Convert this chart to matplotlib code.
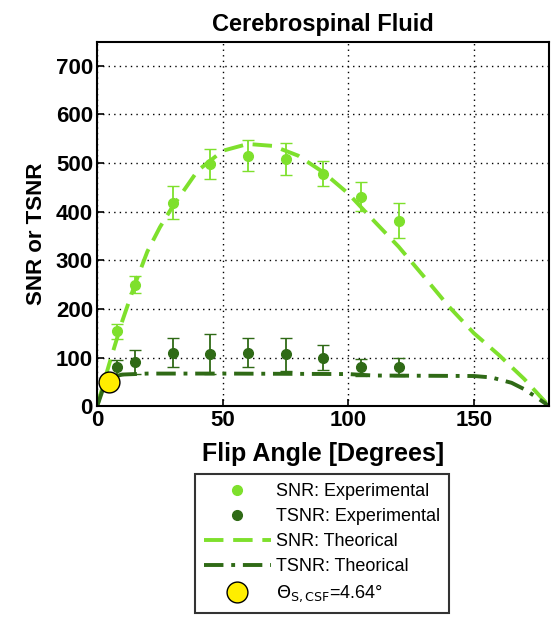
import matplotlib.pyplot as plt
from matplotlib.lines import Line2D

plt.rcParams['font.family'] = ['Liberation Sans', 'DejaVu Sans']

# experimental data
angulos = [8, 15, 30, 45, 60, 75, 90, 105, 120]
snr_exp = [154, 250, 418, 498, 515, 508, 478, 431, 381]
snr_err = [15, 17, 34, 30, 32, 32, 26, 30, 36]
tsnr_exp = [80, 91, 110, 107, 110, 107, 100, 80, 80]
tsnr_err = [15, 25, 30, 41, 30, 34, 25, 17, 18]

# theoretical curves
ang_teo = [0, 3, 5, 10, 15, 20, 25, 30, 40, 50, 60, 70, 80, 90, 100, 110, 120, 130, 140, 150, 160, 170, 180]
snr_teo = [0, 55, 90, 175, 250, 318, 368, 410, 484, 525, 539, 535, 515, 481, 437, 382, 328, 267, 205, 150, 105, 56, 0]
ang_tsnr = [0, 2, 4, 6, 10, 20, 50, 100, 110, 150, 157, 165, 170, 175, 180]
tsnr_teo = [0, 30, 50, 60, 65, 67, 67, 66, 63, 62, 59, 48, 35, 18, 0]

theta_s = 4.64
theta_val = 50

verde_claro = '#7EE02C'
verde_escuro = '#2F6A16'

fig = plt.figure(figsize=(5.52, 6.22), dpi=100)
ax = fig.add_axes([0.176, 0.347, 0.819, 0.585])

ax.plot(ang_teo, snr_teo, color=verde_claro, lw=2.8, dashes=(5, 2.5))
ax.plot(ang_tsnr, tsnr_teo, color=verde_escuro, lw=2.8, dashes=(5, 2, 1, 2))
ax.errorbar(angulos, snr_exp, yerr=snr_err, fmt='o', color=verde_claro, ms=7,
            elinewidth=1.3, capsize=4)
ax.errorbar(angulos, tsnr_exp, yerr=tsnr_err, fmt='o', color=verde_escuro, ms=7,
            elinewidth=1.3, capsize=4)
ax.plot([theta_s], [theta_val], 'o', color='#FFEE00', mec='black', ms=15, mew=1, zorder=5, clip_on=False)

ax.set_xlim(0, 180)
ax.set_ylim(0, 748)
ax.set_xticks([0, 50, 100, 150])
ax.set_yticks(range(0, 701, 100))
ax.grid(True, color='black', linestyle=(0, (1, 3)), linewidth=1)
ax.tick_params(direction='in', labelsize=16, width=1.2, length=5, pad=3)
for lab in ax.get_xticklabels() + ax.get_yticklabels():
    lab.set_fontweight('bold')
for s in ax.spines.values():
    s.set_linewidth(1.5)

ax.set_title('Cerebrospinal Fluid', fontsize=17, fontweight='bold', pad=8)
ax.set_xlabel('Flip Angle [Degrees]', fontsize=18, fontweight='bold', labelpad=8)
ax.set_ylabel('SNR or TSNR', fontsize=16, fontweight='bold')
ax.yaxis.set_label_coords(-0.112, 0.473)

handles = [
    Line2D([], [], marker='o', ls='none', color=verde_claro, ms=7),
    Line2D([], [], marker='o', ls='none', color=verde_escuro, ms=7),
    Line2D([], [], color=verde_claro, lw=2.8, dashes=(5, 2.5)),
    Line2D([], [], color=verde_escuro, lw=2.8, dashes=(5, 2, 1, 2)),
    Line2D([], [], marker='o', ls='none', color='#FFEE00', mec='black', ms=15, mew=1),
]
labels = ['SNR: Experimental', 'TSNR: Experimental', 'SNR: Theorical', 'TSNR: Theorical',
          r'$\Theta_{\mathrm{S,CSF}}$=4.64°']
leg = fig.legend(handles, labels, loc='upper left', bbox_to_anchor=(0.353, 0.238),
                 borderaxespad=0, fontsize=13, frameon=True, fancybox=False, edgecolor='black',
                 handlelength=3.7, handletextpad=0.3, labelspacing=0.45, borderpad=0.5)
leg.get_frame().set_linewidth(1.5)

fig.savefig('out.png', dpi=100)
